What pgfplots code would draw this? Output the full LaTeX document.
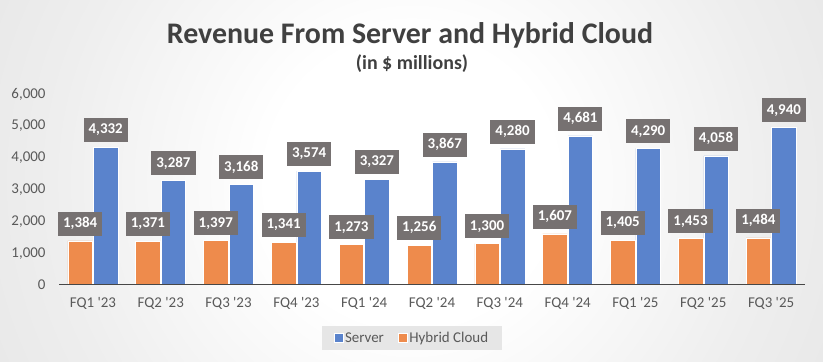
\documentclass[border=0pt]{standalone}
\usepackage{pgfplots}
\pgfplotsset{compat=1.18}
\usepackage{fontspec}
\setmainfont{Carlito}
\definecolor{bgA}{HTML}{EEEEEE}
\definecolor{bgB}{HTML}{D4D4D4}
\definecolor{bgC}{HTML}{CDCDCD}
\definecolor{srv}{HTML}{5A83CC}
\definecolor{hyb}{HTML}{EE8B4C}
\definecolor{lblgray}{HTML}{767171}
\definecolor{tickcol}{HTML}{595959}
\definecolor{titlecol}{HTML}{404040}
\definecolor{legfill}{HTML}{E6E6E6}
\pgfdeclareradialshading{bgshade}{\pgfpoint{0bp}{0bp}}{color(0bp)=(white); color(8bp)=(white); color(20bp)=(bgA); color(46bp)=(bgB); color(50bp)=(bgC)}
\begin{document}
\begin{tikzpicture}
\useasboundingbox (0,0) rectangle (823bp,362bp);
\begin{scope}
\clip (0,0) rectangle (823bp,362bp);
\shade[shading=bgshade] (411.5bp,181bp) circle (450bp);
\end{scope}
\node[font=\bfseries\fontsize{30}{34}\selectfont, text=titlecol] at (410bp,327bp) {Revenue From Server and Hybrid Cloud};
\node[font=\bfseries\fontsize{20}{24}\selectfont, text=titlecol] at (412bp,298bp) {(in \$ millions)};
\begin{axis}[
  at={(59bp,77bp)}, anchor=south west,
  width=746bp, height=191bp, scale only axis,
  xmin=-0.5, xmax=10.5, ymin=0, ymax=6000,
  ybar, bar width=24.5bp,
  axis line style={draw=none},
  tick style={draw=none},
  xtick={0,...,10},
  xticklabels={FQ1 \textquotesingle23, FQ2 \textquotesingle23, FQ3 \textquotesingle23, FQ4 \textquotesingle23, FQ1 \textquotesingle24, FQ2 \textquotesingle24, FQ3 \textquotesingle24, FQ4 \textquotesingle24, FQ1 \textquotesingle25, FQ2 \textquotesingle25, FQ3 \textquotesingle25},
  ytick={0,1000,...,6000},
  /pgf/number format/assume math mode=true,
  /pgf/number format/1000 sep={,},
  ticklabel style={font=\fontsize{15}{17}\selectfont, text=tickcol},
  yticklabel style={xshift=-10bp},
  xticklabel style={yshift=-5bp},
  nodes near coords={\pgfmathprintnumber[assume math mode=true,1000 sep={,}]{\pgfplotspointmeta}},
  every node near coord/.append style={fill=lblgray, text=white, font=\bfseries\fontsize{15}{17}\selectfont, inner xsep=5bp, inner ysep=0pt, minimum height=24bp, anchor=south, yshift=5bp},
  legend columns=2,
  legend style={at={(0.473,-0.277)}, anchor=center, draw=none, fill=legfill, font=\fontsize{15}{17}\selectfont, text=tickcol, inner xsep=12bp, inner ysep=4bp, /tikz/every even column/.append style={column sep=12bp}},
]
\addplot[fill=srv, draw=white, line width=0.5bp, bar shift=12.75bp,
  legend image code/.code={\fill[fill=srv] (0bp,-4.5bp) rectangle (9bp,4.5bp);}]
  coordinates {(0,4332) (1,3287) (2,3168) (3,3574) (4,3327) (5,3867) (6,4280) (7,4681) (8,4290) (9,4058) (10,4940)};
\addlegendentry{Server}
\addplot[fill=hyb, draw=white, line width=0.5bp, bar shift=-12.75bp,
  legend image code/.code={\fill[fill=hyb] (0bp,-4.5bp) rectangle (9bp,4.5bp);}]
  coordinates {(0,1384) (1,1371) (2,1397) (3,1341) (4,1273) (5,1256) (6,1300) (7,1607) (8,1405) (9,1453) (10,1484)};
\addlegendentry{Hybrid Cloud}
\draw[tickcol!80!black, line width=1.3pt] (rel axis cs:0,0) -- (rel axis cs:1,0);
\end{axis}
\end{tikzpicture}
\end{document}
